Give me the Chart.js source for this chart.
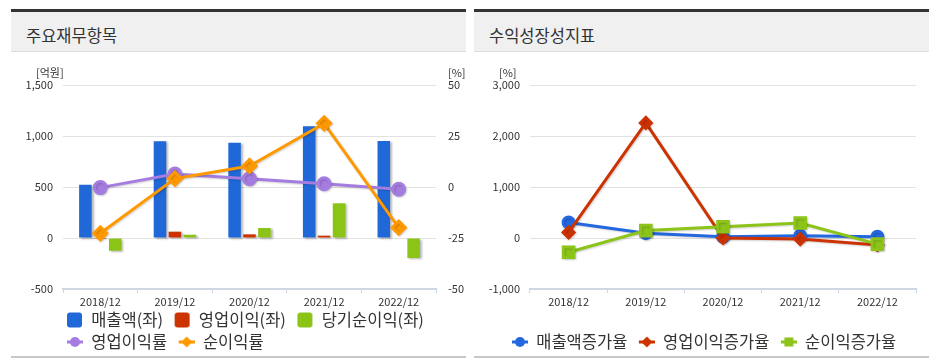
<!DOCTYPE html>
<html>
<head>
<meta charset="utf-8">
<script src="https://cdn.jsdelivr.net/npm/chart.js@4/dist/chart.umd.min.js"></script>
<style>
  body { margin:0; background:#fff; width:940px; height:364px; position:relative; overflow:hidden;
         font-family:'Noto Sans CJK KR','Noto Sans',sans-serif; }
  .panel { position:absolute; top:9px; width:455px; height:355px; }
  .topbar { position:absolute; left:0; top:0; width:100%; height:3px; background:#333; }
  .head { position:absolute; left:0; top:3px; width:100%; height:39px; background:#f0f0f0; border-bottom:1px solid #dcdcdc; }
  .title { position:absolute; left:15px; top:12px; font-size:16.5px; line-height:22px; color:#333; }
  .foot { position:absolute; left:0; top:347px; width:100%; height:2px; background:#c8c8c8; }
  .unit { position:absolute; top:56px; font-size:11px; line-height:14px; color:#333; }
  canvas { position:absolute; left:0; top:43px; }
</style>
</head>
<body>
<div class="panel" style="left:11px;">
  <div class="topbar"></div>
  <div class="head"><div class="title">주요재무항목</div></div>
  <canvas id="c1" width="455" height="311"></canvas>
  <div class="unit" style="left:25px;">[억원]</div>
  <div class="unit" style="left:437px;">[%]</div>
  <div class="foot"></div>
</div>
<div class="panel" style="left:474px;">
  <div class="topbar"></div>
  <div class="head"><div class="title">수익성장성지표</div></div>
  <canvas id="c2" width="455" height="311"></canvas>
  <div class="unit" style="left:25px;">[%]</div>
  <div class="foot"></div>
</div>
<script>
// ---------- data ----------
const categories = ['2018/12', '2019/12', '2020/12', '2021/12', '2022/12'];

const revenue         = [522, 948, 935, 1095, 950];      // 매출액(좌) [억원]
const operatingIncome = [-1, 62, 36, 23, -5];            // 영업이익(좌)
const netIncome       = [-125, 32, 98, 340, -196];       // 당기순이익(좌)
const operatingMargin = [-0.3, 6.4, 4.1, 1.6, -1.1];     // 영업이익률 [%]
const netMargin       = [-22.7, 4.1, 10.3, 31.2, -19.9]; // 순이익률 [%]

const revenueGrowth         = [305, 95, 25, 45, 25];       // 매출액증가율 [%]
const operatingIncomeGrowth = [110, 2255, 0, -20, -137];   // 영업이익증가율
const netIncomeGrowth       = [-280, 145, 220, 295, -120]; // 순이익증가율

const leftAxisTicks   = [-500, 0, 500, 1000, 1500];
const rightAxisTicks  = [-50, -25, 0, 25, 50];
const growthAxisTicks = [-1000, 0, 1000, 2000, 3000];

const leftLabels  = ['매출액(좌)', '영업이익(좌)', '당기순이익(좌)', '영업이익률', '순이익률'];
const rightLabels = ['매출액증가율', '영업이익증가율', '순이익증가율'];

// ---------- helpers ----------
Chart.defaults.font.family = "'Noto Sans CJK KR','Noto Sans',sans-serif";
Chart.defaults.color = '#333';

function makeMarker(kind, color) {
  const c = document.createElement('canvas');
  c.width = 22; c.height = 16;
  const g = c.getContext('2d');
  g.fillStyle = color; g.strokeStyle = color;
  if (kind === 'box') {
    const x = 6, y = 0.5, w = 15, h = 15, r = 3;
    g.beginPath();
    g.moveTo(x + r, y); g.lineTo(x + w - r, y); g.quadraticCurveTo(x + w, y, x + w, y + r);
    g.lineTo(x + w, y + h - r); g.quadraticCurveTo(x + w, y + h, x + w - r, y + h);
    g.lineTo(x + r, y + h); g.quadraticCurveTo(x, y + h, x, y + h - r);
    g.lineTo(x, y + r); g.quadraticCurveTo(x, y, x + r, y);
    g.fill();
    return c;
  }
  g.lineWidth = 3;
  g.beginPath(); g.moveTo(6, 8); g.lineTo(22, 8); g.stroke();
  const cx = 14, cy = 8;
  g.beginPath();
  if (kind === 'circle') {
    g.arc(cx, cy, 5, 0, Math.PI * 2);
  } else if (kind === 'rectRot') {
    g.moveTo(cx - 5.5, cy); g.lineTo(cx, cy - 5.5); g.lineTo(cx + 5.5, cy); g.lineTo(cx, cy + 5.5); g.closePath();
  } else {
    g.rect(cx - 4.5, cy - 4.5, 9, 9);
  }
  g.fill();
  return c;
}

function genLabels(chart) {
  return chart.data.datasets.map((ds, i) => {
    const kind = (ds.type === 'line' || (!ds.type && chart.config.type === 'line')) ? ds.pointStyle : 'box';
    const col = kind === 'box' ? ds.backgroundColor : ds.borderColor;
    return { text: ds.label, fillStyle: col, strokeStyle: col, lineWidth: 0, hidden: false,
             datasetIndex: i, pointStyle: makeMarker(kind, col), fontColor: '#333' };
  });
}

const legendPlace = {
  id: 'legendPlace',
  afterLayout(chart, args, opts) {
    if (!chart.legend) return;
    chart.legend.left = opts.left;
    chart.legend.top = opts.top;
    if (opts.right) chart.legend.right = opts.right;
  }
};

const shadow = {
  id: 'shadow',
  beforeDatasetDraw(chart, args) {
    const c = chart.ctx;
    if (args.meta.type === 'bar') {
      c.shadowColor = 'rgba(0,0,0,0.28)'; c.shadowOffsetX = 2; c.shadowOffsetY = 1; c.shadowBlur = 2;
    } else {
      c.shadowColor = 'rgba(0,0,0,0.18)'; c.shadowOffsetX = 1; c.shadowOffsetY = 1; c.shadowBlur = 2;
    }
  },
  afterDatasetDraw(chart) {
    const c = chart.ctx;
    c.shadowColor = 'rgba(0,0,0,0)'; c.shadowOffsetX = 0; c.shadowOffsetY = 0; c.shadowBlur = 0;
  }
};

function fixedTicks(arr) {
  return function (scale) { scale.ticks = arr.map(v => ({ value: v })); };
}

const xAxisCommon = (h) => ({
  offset: true,
  grid: { display: true, drawOnChartArea: false, drawTicks: true, tickLength: 4, color: '#cfd7e3', offset: true },
  border: { display: true, color: '#cfd7e3', width: 2 },
  ticks: { color: '#333', padding: 2, font: { size: 11 }, maxRotation: 0, autoSkip: false },
  afterFit(s) { s.height = h; }
});

const legendCommon = {
  position: 'bottom', align: 'start',
  labels: { usePointStyle: true, pointStyleWidth: 22, padding: 5.5, color: '#333',
            font: { size: 16.5 }, generateLabels: genLabels }
};

// ---------- left chart ----------
new Chart(document.getElementById('c1'), {
  type: 'bar',
  data: {
    labels: categories,
    datasets: [
      { type: 'bar', label: leftLabels[0], data: revenue, backgroundColor: '#2068d8', yAxisID: 'y', order: 2 },
      { type: 'bar', label: leftLabels[1], data: operatingIncome, backgroundColor: '#cc3300', yAxisID: 'y', order: 2 },
      { type: 'bar', label: leftLabels[2], data: netIncome, backgroundColor: '#8cc317', yAxisID: 'y', order: 2 },
      { type: 'line', label: leftLabels[3], data: operatingMargin, borderColor: '#a57de0', backgroundColor: '#a57de0',
        pointBackgroundColor: '#a57de0', pointBorderColor: '#a57de0', pointStyle: 'circle', pointRadius: 6,
        borderWidth: 3, tension: 0, yAxisID: 'y1', order: 1 },
      { type: 'line', label: leftLabels[4], data: netMargin, borderColor: '#ff9900', backgroundColor: '#ff9900',
        pointBackgroundColor: '#ff9900', pointBorderColor: '#ff9900', pointStyle: 'rectRot', pointRadius: 6.5,
        borderWidth: 3, tension: 0, yAxisID: 'y1', order: 0 }
    ]
  },
  options: {
    responsive: false, animation: false, events: [],
    layout: { padding: { top: 33, left: 0, right: 0, bottom: 0 } },
    datasets: { bar: { categoryPercentage: 0.6, barPercentage: 0.84 } },
    scales: {
      x: xAxisCommon(20),
      y: {
        position: 'left', min: leftAxisTicks[0], max: leftAxisTicks[leftAxisTicks.length - 1],
        afterBuildTicks: fixedTicks(leftAxisTicks),
        ticks: { color: '#333', padding: 10, font: { size: 11 } },
        grid: { color: '#e2e2e2', drawTicks: false }, border: { display: false },
        afterFit(s) { s.width = 52; }
      },
      y1: {
        position: 'right', min: rightAxisTicks[0], max: rightAxisTicks[rightAxisTicks.length - 1],
        afterBuildTicks: fixedTicks(rightAxisTicks),
        ticks: { color: '#333', padding: 12, font: { size: 11 } },
        grid: { display: false, drawTicks: false }, border: { display: false },
        afterFit(s) { s.width = 30; }
      }
    },
    plugins: {
      legend: legendCommon,
      tooltip: { enabled: false },
      legendPlace: { left: 44.5, top: 254.25, right: 455 }
    }
  },
  plugins: [legendPlace, shadow]
});

// ---------- right chart ----------
new Chart(document.getElementById('c2'), {
  type: 'line',
  data: {
    labels: categories,
    datasets: [
      { label: rightLabels[0], data: revenueGrowth, borderColor: '#2468e0', backgroundColor: '#2468e0',
        pointBackgroundColor: '#2468e0', pointBorderColor: '#2468e0', pointStyle: 'circle', pointRadius: 5.5,
        borderWidth: 3, tension: 0, order: 2 },
      { label: rightLabels[1], data: operatingIncomeGrowth, borderColor: '#cc3300', backgroundColor: '#cc3300',
        pointBackgroundColor: '#cc3300', pointBorderColor: '#cc3300', pointStyle: 'rectRot', pointRadius: 5.5,
        borderWidth: 3, tension: 0, order: 1 },
      { label: rightLabels[2], data: netIncomeGrowth, borderColor: '#8cc41a', backgroundColor: '#8cc41a',
        pointBackgroundColor: '#8cc41a', pointBorderColor: '#8cc41a', pointStyle: 'rect', pointRadius: 7.5,
        borderWidth: 3, tension: 0, order: 0 }
    ]
  },
  options: {
    responsive: false, animation: false, events: [],
    layout: { padding: { top: 33, left: 0, right: 13, bottom: 0 } },
    scales: {
      x: xAxisCommon(42),
      y: {
        position: 'left', min: growthAxisTicks[0], max: growthAxisTicks[growthAxisTicks.length - 1],
        afterBuildTicks: fixedTicks(growthAxisTicks),
        ticks: { color: '#333', padding: 10, font: { size: 11 } },
        grid: { color: '#e2e2e2', drawTicks: false }, border: { display: false },
        afterFit(s) { s.width = 56; }
      }
    },
    plugins: {
      legend: legendCommon,
      tooltip: { enabled: false },
      legendPlace: { left: 26.5, top: 276.25, right: 455 }
    }
  },
  plugins: [legendPlace, shadow]
});
</script>
</body>
</html>
